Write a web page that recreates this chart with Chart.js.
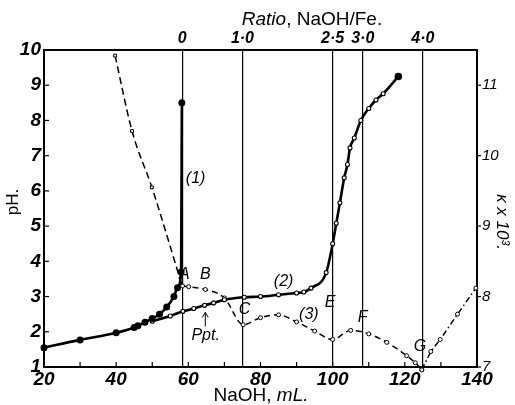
<!DOCTYPE html>
<html>
<head>
<meta charset="utf-8">
<script src="https://cdn.jsdelivr.net/npm/chart.js@4.4.1/dist/chart.umd.min.js"></script>
<style>
html,body{margin:0;padding:0;background:#fff}
#wrap{width:515px;height:405px}
</style>
</head>
<body>
<div id="wrap"><canvas id="c"></canvas></div>
<script>
// ---------------- DATA ----------------
// curve (1): pH, filled dots
const naoh1 = [20, 30, 40, 45, 46, 48, 50, 52, 54, 56, 57, 58, 58.2];
const ph1 = [1.55, 1.77, 1.97, 2.12, 2.17, 2.27, 2.38, 2.5, 2.7, 3.0, 3.25, 3.7, 8.5];

// curve (2): pH, open circles
const naoh2 = [50, 55, 58.5, 61.5, 64.5, 67, 70, 75.5, 80, 85, 90, 92, 94, 98.2, 100, 101, 102, 103.2, 104.1, 104.8, 106, 107.8, 110, 112, 114, 118.2];
const ph2 = [2.3, 2.45, 2.58, 2.66, 2.75, 2.82, 2.91, 2.98, 3.0, 3.05, 3.1, 3.13, 3.24, 3.68, 4.5, 5.08, 5.66, 6.37, 6.75, 7.22, 7.5, 8.0, 8.34, 8.58, 8.76, 9.25];

// conductance (dashed, squares) down to A
const naohK1 = [39.7, 44.4, 49.9, 58.3];
const kappaK1 = [11.42, 10.35, 9.55, 8.15];

// curve (3): conductance A..G
const naoh3 = [58.4, 60.1, 64.7, 70, 75.2, 80, 85, 90, 95, 100, 105, 110, 115, 120.5, 122.9, 124.7];
const kappa3 = [8.15, 8.14, 8.1, 7.98, 7.6, 7.7, 7.74, 7.64, 7.51, 7.39, 7.52, 7.47, 7.35, 7.16, 7.06, 6.96];

// curve (3) beyond G (dash-dot)
const naoh4 = [124.7, 127.2, 129.8, 134.6, 139.7];
const kappa4 = [6.96, 7.22, 7.39, 7.75, 8.12];

// top axis: ratio NaOH/Fe
const ratioPos = [58.33, 75, 100, 108.33, 125];
const ratioLabels = ['0', '1·0', '2·5', '3·0', '4·0'];

const kappaTicks = [7, 8, 9, 10, 11];

function pts(xs, ys) { return xs.map((x, i) => ({ x: x, y: ys[i] })); }

// text on the plot
const notes = [
  { t: '(1)', x: 59.3, y: 6.35, align: 'left' },
  { t: 'A', x: 58.9, y: 3.62, align: 'center' },
  { t: 'B', x: 64.7, y: 3.62, align: 'center' },
  { t: 'C', x: 75.6, y: 2.62, align: 'center' },
  { t: '(2)', x: 86.4, y: 3.42, align: 'center' },
  { t: '(3)', x: 93.4, y: 2.5, align: 'center' },
  { t: 'E', x: 99.3, y: 2.82, align: 'center' },
  { t: 'F', x: 108.3, y: 2.4, align: 'center' },
  { t: 'G', x: 124.2, y: 1.58, align: 'center' },
  { t: 'Ppt.', x: 64.8, y: 1.9, align: 'center' }
];

const FONT = '"Liberation Sans", Arial, sans-serif';

// ---------------- PLUGIN: ticks, titles, notes ----------------
const drawExtras = {
  id: 'drawExtras',
  afterDatasetsDraw(chart) {
    const c = chart.ctx;
    const sx = chart.scales.x, sy = chart.scales.y, sk = chart.scales.y2;
    const a = chart.chartArea;
    c.save();
    c.strokeStyle = '#000';
    c.fillStyle = '#000';
    c.lineWidth = 1.2;
    // inward ticks
    for (let v = 30; v < 140; v += 10) {
      const px = sx.getPixelForValue(v);
      c.beginPath(); c.moveTo(px, a.bottom); c.lineTo(px, a.bottom - 5); c.stroke();
    }
    for (let v = 2; v < 10; v++) {
      const py = sy.getPixelForValue(v);
      c.beginPath(); c.moveTo(a.left, py); c.lineTo(a.left + 5, py); c.stroke();
    }
    kappaTicks.forEach(v => {
      const py = sk.getPixelForValue(v);
      c.beginPath(); c.moveTo(a.right, py); c.lineTo(a.right + 4, py); c.stroke();
    });

    // notes
    c.textBaseline = 'middle';
    notes.forEach(n => {
      c.font = 'italic 16px ' + FONT;
      c.textAlign = n.align;
      c.fillText(n.t, sx.getPixelForValue(n.x), sy.getPixelForValue(n.y));
    });
    // Ppt arrow
    const ax = sx.getPixelForValue(64.7);
    const y0 = sy.getPixelForValue(2.15), y1 = sy.getPixelForValue(2.55);
    c.lineWidth = 1;
    c.beginPath(); c.moveTo(ax, y0); c.lineTo(ax, y1); c.stroke();
    c.beginPath(); c.moveTo(ax - 3, y1 + 5); c.lineTo(ax, y1); c.lineTo(ax + 3, y1 + 5); c.stroke();

    // titles with mixed fonts
    function mixed(parts, cx, cy) {
      let w = 0;
      parts.forEach(p => { c.font = p[1]; w += c.measureText(p[0]).width; });
      let x = cx - w / 2;
      c.textAlign = 'left';
      parts.forEach(p => { c.font = p[1]; c.fillText(p[0], x, cy); x += c.measureText(p[0]).width; });
    }
    mixed([['NaOH, ', '19px ' + FONT], ['mL.', 'italic 19px ' + FONT]], 261, 396);
    mixed([['Ratio', 'italic 19px ' + FONT], [', NaOH/Fe.', '19px ' + FONT]], 312, 20);

    // pH. (left)
    c.save();
    c.translate(13, 202);
    c.rotate(-Math.PI / 2);
    c.font = '17px ' + FONT;
    c.textAlign = 'center';
    c.fillText('pH.', 0, 0);
    c.restore();
    // kappa x 10^3 (right)
    c.save();
    c.translate(502, 222);
    c.rotate(Math.PI / 2);
    c.font = 'italic 17px ' + FONT;
    c.textAlign = 'center';
    c.fillText('κ x 10³.', 0, 0);
    c.restore();
    c.restore();
  }
};

// ---------------- CHART ----------------
const tickFont = { family: FONT, size: 19, style: 'italic', weight: 'bold' };
const noGrid = { drawOnChartArea: false, drawTicks: false };
const frame = { color: '#000', width: 2 };

new Chart(document.getElementById('c'), {
  type: 'scatter',
  data: {
    datasets: [
      {
        data: pts(naoh1, ph1), yAxisID: 'y', showLine: true,
        borderColor: '#000', borderWidth: 2.6, cubicInterpolationMode: 'monotone',
        pointRadius: 2.2, pointBackgroundColor: '#000', pointBorderColor: '#000', clip: false
      },
      {
        data: pts(naoh2, ph2), yAxisID: 'y', showLine: true,
        borderColor: '#000', borderWidth: 2.6, cubicInterpolationMode: 'monotone',
        pointRadius: ctx => ctx.dataIndex === naoh2.length - 1 ? 3.2 : 2,
        pointBackgroundColor: ctx => ctx.dataIndex === naoh2.length - 1 ? '#000' : '#fff',
        pointBorderColor: '#000', pointBorderWidth: 1.1, clip: false
      },
      {
        data: pts(naohK1, kappaK1), yAxisID: 'y2', showLine: true,
        borderColor: '#000', borderWidth: 1.5, borderDash: [7, 4], cubicInterpolationMode: 'monotone',
        pointStyle: 'rect', pointRadius: ctx => ctx.dataIndex === naohK1.length - 1 ? 0 : 2,
        pointBackgroundColor: '#fff', pointBorderColor: '#000', pointBorderWidth: 1, clip: false
      },
      {
        data: pts(naoh3, kappa3), yAxisID: 'y2', showLine: true,
        borderColor: '#000', borderWidth: 1.5, borderDash: [6, 4], cubicInterpolationMode: 'monotone',
        pointRadius: 2, pointBackgroundColor: '#fff', pointBorderColor: '#000', pointBorderWidth: 1, clip: false
      },
      {
        data: pts(naoh4, kappa4), yAxisID: 'y2', showLine: true,
        borderColor: '#000', borderWidth: 1.5, borderDash: [6, 3, 1.5, 3],
        pointRadius: 2, pointBackgroundColor: '#fff', pointBorderColor: '#000', pointBorderWidth: 1, clip: false
      }
    ]
  },
  options: {
    responsive: true,
    maintainAspectRatio: false,
    animation: false,
    layout: { padding: 0 },
    plugins: { legend: { display: false }, tooltip: { enabled: false } },
    scales: {
      x: {
        type: 'linear', position: 'bottom', min: 20, max: 140,
        ticks: { stepSize: 20, color: '#000', font: tickFont, padding: 1, maxRotation: 0 },
        grid: noGrid, border: frame,
        afterFit: s => { s.height = 38; }
      },
      x2: {
        type: 'linear', position: 'top', min: 20, max: 140,
        afterBuildTicks: s => { s.ticks = ratioPos.map(v => ({ value: v })); },
        ticks: {
          color: '#000', padding: 2, maxRotation: 0, autoSkip: false,
          font: { family: FONT, size: 16, style: 'italic', weight: 'bold' },
          callback: (v, i) => ratioLabels[i]
        },
        grid: { drawOnChartArea: true, drawTicks: false, color: '#000', lineWidth: 1.2 },
        border: frame,
        afterFit: s => { s.height = 50; }
      },
      y: {
        type: 'linear', position: 'left', min: 1, max: 10,
        ticks: { stepSize: 1, color: '#000', font: tickFont, padding: 3 },
        grid: noGrid, border: frame,
        afterFit: s => { s.width = 44; }
      },
      y2: {
        type: 'linear', position: 'right', min: 7, max: 11.5,
        afterBuildTicks: s => { s.ticks = kappaTicks.map(v => ({ value: v })); },
        ticks: { color: '#000', padding: 5, font: { family: FONT, size: 15, style: 'italic' } },
        grid: noGrid, border: frame,
        afterFit: s => { s.width = 38; }
      }
    }
  },
  plugins: [drawExtras]
});
</script>
</body>
</html>
